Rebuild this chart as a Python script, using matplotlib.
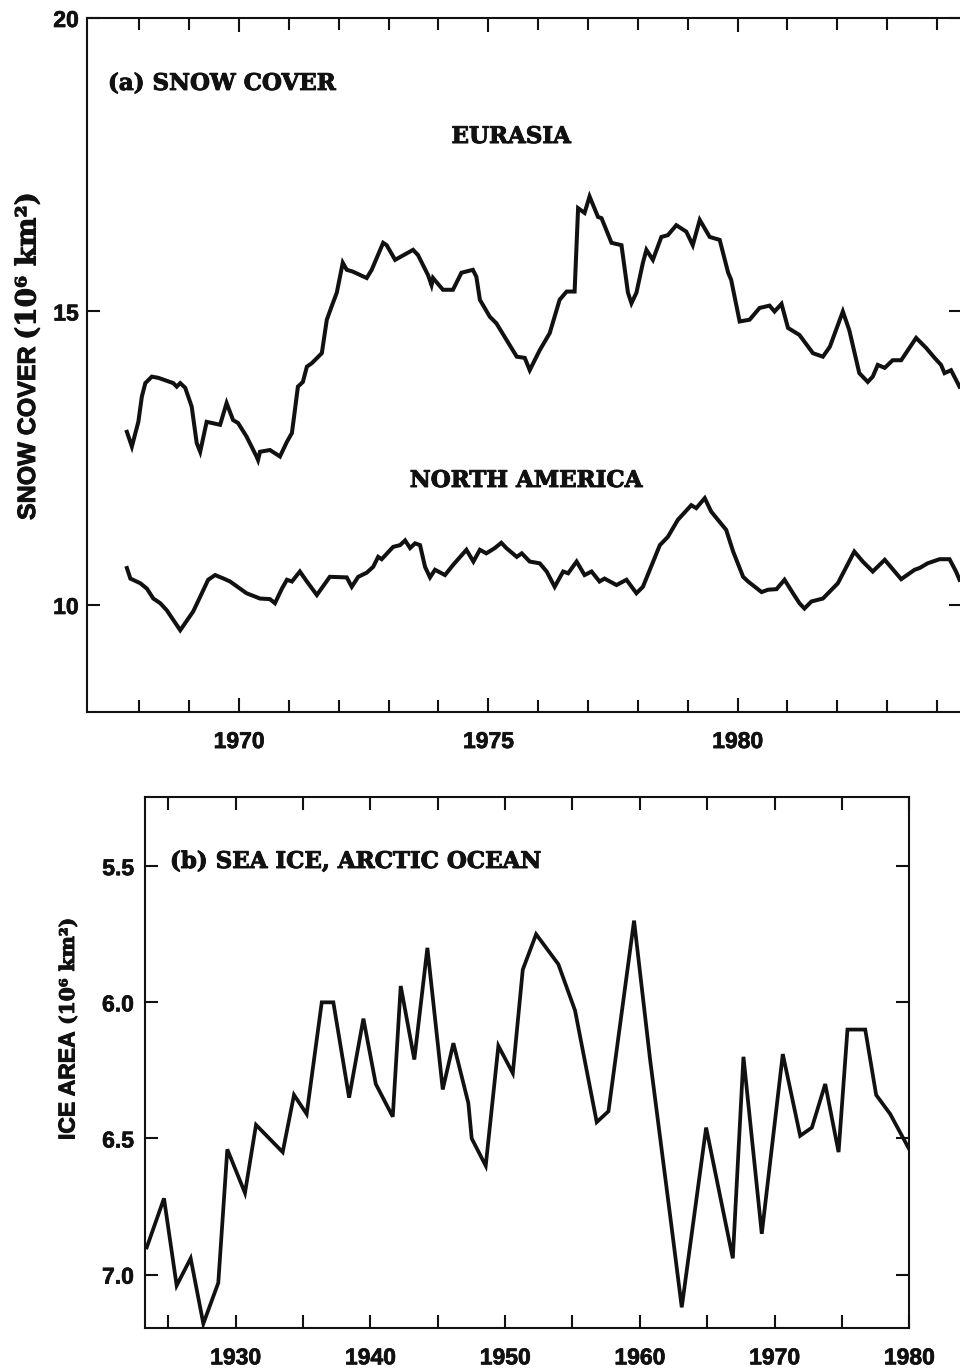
import matplotlib
matplotlib.use("Agg")
import matplotlib.pyplot as plt
import matplotlib.patheffects as pe
from matplotlib.ticker import FixedLocator, FormatStrFormatter

# ---------------- data ----------------
eurasia_year = [1967.75, 1967.85, 1967.98, 1968.05, 1968.12, 1968.25, 1968.38, 1968.68, 1968.75, 1968.82,
                1968.92, 1969.05, 1969.15, 1969.22, 1969.35, 1969.62, 1969.75, 1969.88, 1969.98, 1970.15,
                1970.35, 1970.38, 1970.42, 1970.62, 1970.82, 1970.96, 1971.06, 1971.12, 1971.18, 1971.28,
                1971.36, 1971.46, 1971.66, 1971.76, 1971.88, 1971.96, 1972.08, 1972.16, 1972.28, 1972.56,
                1972.66, 1972.89, 1972.96, 1973.13, 1973.49, 1973.59, 1973.79, 1973.86, 1973.89, 1974.09,
                1974.29, 1974.46, 1974.69, 1974.76, 1974.83, 1975.03, 1975.16, 1975.57, 1975.73, 1975.83,
                1976.03, 1976.23, 1976.43, 1976.57, 1976.73, 1976.80, 1976.93, 1977.03, 1977.20, 1977.27,
                1977.47, 1977.67, 1977.80, 1977.87, 1977.97, 1978.10, 1978.17, 1978.30, 1978.47, 1978.60,
                1978.77, 1978.97, 1979.10, 1979.24, 1979.44, 1979.64, 1979.81, 1979.87, 1980.04, 1980.24,
                1980.44, 1980.64, 1980.74, 1980.88, 1981.01, 1981.24, 1981.51, 1981.71, 1981.85, 1982.11,
                1982.24, 1982.44, 1982.61, 1982.71, 1982.81, 1982.95, 1983.11, 1983.28, 1983.58, 1983.78,
                1983.95, 1984.08, 1984.15, 1984.28, 1984.45]
eurasia_snow = [12.95, 12.70, 13.12, 13.55, 13.78, 13.89, 13.87, 13.78, 13.72, 13.78,
                13.70, 13.38, 12.76, 12.61, 13.12, 13.07, 13.44, 13.15, 13.10, 12.87,
                12.53, 12.47, 12.61, 12.64, 12.53, 12.78, 12.93, 13.32, 13.72, 13.80,
                14.06, 14.12, 14.29, 14.86, 15.14, 15.32, 15.83, 15.71, 15.68, 15.57,
                15.71, 16.17, 16.13, 15.88, 16.05, 15.96, 15.62, 15.45, 15.57, 15.37,
                15.37, 15.66, 15.71, 15.59, 15.20, 14.91, 14.80, 14.23, 14.21, 14.00,
                14.34, 14.63, 15.20, 15.34, 15.34, 16.76, 16.68, 16.96, 16.61, 16.59,
                16.17, 16.13, 15.32, 15.14, 15.32, 15.83, 16.05, 15.88, 16.27, 16.30,
                16.47, 16.36, 16.13, 16.56, 16.27, 16.22, 15.66, 15.54, 14.83, 14.86,
                15.06, 15.10, 15.00, 15.13, 14.72, 14.60, 14.29, 14.23, 14.40, 15.00,
                14.68, 13.95, 13.80, 13.89, 14.09, 14.04, 14.17, 14.17, 14.55, 14.38,
                14.21, 14.09, 13.95, 14.00, 13.72]

namerica_year = [1967.75, 1967.82, 1968.02, 1968.15, 1968.28, 1968.42, 1968.55, 1968.82, 1969.08, 1969.22,
                 1969.38, 1969.52, 1969.69, 1969.82, 1970.15, 1970.42, 1970.62, 1970.72, 1970.86, 1970.96,
                 1971.06, 1971.22, 1971.36, 1971.56, 1971.82, 1972.16, 1972.26, 1972.39, 1972.56, 1972.69,
                 1972.79, 1972.86, 1973.09, 1973.23, 1973.33, 1973.43, 1973.53, 1973.63, 1973.73, 1973.83,
                 1973.93, 1974.13, 1974.29, 1974.56, 1974.70, 1974.83, 1974.96, 1975.13, 1975.26, 1975.36,
                 1975.57, 1975.67, 1975.83, 1976.03, 1976.17, 1976.33, 1976.50, 1976.60, 1976.77, 1976.93,
                 1977.07, 1977.23, 1977.33, 1977.57, 1977.77, 1977.97, 1978.10, 1978.44, 1978.60, 1978.80,
                 1979.07, 1979.17, 1979.34, 1979.47, 1979.77, 1979.91, 1980.11, 1980.21, 1980.48, 1980.61,
                 1980.78, 1980.94, 1981.11, 1981.24, 1981.34, 1981.48, 1981.71, 1982.01, 1982.34, 1982.51,
                 1982.71, 1982.95, 1983.28, 1983.55, 1983.65, 1983.81, 1984.05, 1984.25, 1984.38, 1984.45]
namerica_snow = [10.63, 10.45, 10.37, 10.28, 10.11, 10.03, 9.91, 9.57, 9.89, 10.14,
                 10.43, 10.51, 10.45, 10.40, 10.20, 10.11, 10.10, 10.03, 10.28, 10.43,
                 10.40, 10.57, 10.40, 10.17, 10.48, 10.47, 10.31, 10.48, 10.55, 10.65,
                 10.82, 10.78, 10.99, 11.02, 11.10, 10.97, 11.05, 11.02, 10.65, 10.47,
                 10.60, 10.51, 10.68, 10.94, 10.74, 10.94, 10.88, 10.97, 11.06, 10.97,
                 10.82, 10.88, 10.74, 10.71, 10.57, 10.31, 10.57, 10.54, 10.74, 10.51,
                 10.57, 10.40, 10.45, 10.34, 10.43, 10.20, 10.31, 11.02, 11.16, 11.45,
                 11.70, 11.65, 11.82, 11.59, 11.28, 10.91, 10.48, 10.40, 10.22, 10.26,
                 10.27, 10.43, 10.20, 10.03, 9.94, 10.06, 10.11, 10.37, 10.91, 10.74,
                 10.57, 10.77, 10.44, 10.60, 10.63, 10.71, 10.78, 10.78, 10.57, 10.43]

seaice_year = [1923.40, 1924.68, 1925.62, 1926.66, 1927.60, 1928.71, 1929.38, 1930.69, 1931.51, 1933.49,
               1934.33, 1935.27, 1936.39, 1937.25, 1938.42, 1939.48, 1940.40, 1941.66, 1942.25, 1943.26,
               1944.23, 1945.37, 1946.16, 1947.27, 1947.52, 1948.56, 1949.50, 1950.57, 1951.31, 1952.30,
               1953.95, 1955.19, 1956.80, 1957.67, 1959.57, 1960.76, 1962.24, 1963.11, 1964.92, 1966.90,
               1967.69, 1969.05, 1970.61, 1971.90, 1972.77, 1973.76, 1974.75, 1975.41, 1976.73, 1977.54,
               1978.58, 1980.00]
seaice_area = [6.90, 6.72, 7.04, 6.94, 7.18, 7.03, 6.54, 6.70, 6.45, 6.55,
               6.34, 6.41, 6.00, 6.00, 6.35, 6.06, 6.30, 6.42, 5.94, 6.21,
               5.80, 6.32, 6.15, 6.37, 6.50, 6.60, 6.16, 6.26, 5.88, 5.75,
               5.86, 6.03, 6.44, 6.40, 5.70, 6.21, 6.78, 7.12, 6.46, 6.94,
               6.20, 6.85, 6.19, 6.49, 6.46, 6.30, 6.55, 6.10, 6.10, 6.34,
               6.41, 6.54]

top_yticks = [10, 15, 20]
top_xlabels = [1970, 1975, 1980]
top_xminor = [1968, 1969, 1971, 1972, 1973, 1974, 1976, 1977, 1978, 1979, 1981, 1982, 1983, 1984]
bot_yticks = [5.5, 6.0, 6.5, 7.0]
bot_xlabels = [1930, 1940, 1950, 1960, 1970, 1980]
bot_xminor = [1925, 1935, 1945, 1955, 1965, 1975]

# ---------------- style ----------------
INK = "#111111"
SANS = ["Liberation Sans", "DejaVu Sans"]
SERIF = ["DejaVu Serif"]
HEAVY = [pe.withStroke(linewidth=0.7, foreground=INK)]

plt.rcParams["font.family"] = SANS
plt.rcParams["axes.linewidth"] = 1.5

fig = plt.figure(figsize=(9.6, 13.68), dpi=100)
W, H = 960.0, 1368.0

def axes_px(l, t, r, b):
    return fig.add_axes([l / W, 1 - b / H, (r - l) / W, (b - t) / H])

ax1 = axes_px(87, 18, 962, 712)
ax2 = axes_px(145, 797, 909.3, 1328.3)

def style(ax):
    for s in ax.spines.values():
        s.set_color(INK)
        s.set_linewidth(1.5)
    ax.tick_params(which="both", direction="in", top=True, right=True,
                   colors=INK, width=1.5)
    for lab in ax.get_xticklabels() + ax.get_yticklabels():
        lab.set_fontweight("bold")
        lab.set_fontsize(16.5)
        lab.set_fontfamily(SANS)
        lab.set_path_effects([pe.withStroke(linewidth=0.5, foreground=INK)])

# ---- panel (a) ----
ax1.plot(eurasia_year, eurasia_snow, color=INK, lw=2.9, solid_joinstyle="miter")
ax1.plot(namerica_year, namerica_snow, color=INK, lw=2.9, solid_joinstyle="miter")
ax1.set_xlim(1966.95, 1984.5)
ax1.set_ylim(8.177, 20)
ax1.xaxis.set_major_locator(FixedLocator(top_xlabels))
ax1.xaxis.set_minor_locator(FixedLocator(top_xminor))
ax1.yaxis.set_major_locator(FixedLocator(top_yticks))
ax1.tick_params(axis="x", which="major", length=10, pad=13)
ax1.tick_params(axis="x", which="minor", length=8.5)
ax1.tick_params(axis="y", which="major", length=9.5, pad=6)
style(ax1)

for txt, x, y, ha in [("(a) SNOW COVER", 0.024, 0.905, "left"),
                      ("EURASIA", 0.4846, 0.8285, "center"),
                      ("NORTH AMERICA", 0.5017, 0.3329, "center")]:
    ax1.text(x, y, txt, transform=ax1.transAxes, ha=ha, va="center", fontsize=16.5,
             fontweight="bold", family=SERIF, color=INK, path_effects=HEAVY)

t1 = fig.text(28 / W, 1 - 520 / H, "SNOW COVER", rotation=90, ha="center", va="bottom",
              fontsize=18, fontweight="bold", family=SANS, color=INK, path_effects=HEAVY)
ax1.annotate("(10\u2076 km\u00b2)", xy=(0.5, 1.0), xycoords=t1, xytext=(0, 5),
             textcoords="offset points", rotation=90, ha="center", va="bottom",
             fontsize=20, fontweight="bold", family=SERIF, color=INK, annotation_clip=False,
             path_effects=HEAVY)

# ---- panel (b) ----
ax2.plot(seaice_year, seaice_area, color=INK, lw=2.7, solid_joinstyle="miter")
ax2.set_xlim(1923.27, 1980)
ax2.set_ylim(7.197, 5.246)
ax2.xaxis.set_major_locator(FixedLocator(bot_xlabels))
ax2.xaxis.set_minor_locator(FixedLocator(bot_xminor))
ax2.yaxis.set_major_locator(FixedLocator(bot_yticks))
ax2.yaxis.set_major_formatter(FormatStrFormatter("%.1f"))
ax2.tick_params(axis="x", which="both", length=9.5, pad=13)
ax2.tick_params(axis="y", which="major", length=9.5, pad=8)
style(ax2)

ax2.text(0.0327, 0.8777, "(b) SEA ICE, ARCTIC OCEAN", transform=ax2.transAxes, ha="left",
         va="center", fontsize=16.5, fontweight="bold", family=SERIF, color=INK, path_effects=HEAVY)

t2 = fig.text(68 / W, 1 - 1140 / H, "ICE AREA", rotation=90, ha="center", va="bottom",
              fontsize=16.5, fontweight="bold", family=SANS, color=INK, path_effects=HEAVY)
ax2.annotate("(10\u2076 km\u00b2)", xy=(0.5, 1.0), xycoords=t2, xytext=(0, 5),
             textcoords="offset points", rotation=90, ha="center", va="bottom",
             fontsize=14.5, fontweight="bold", family=SERIF, color=INK, annotation_clip=False,
             path_effects=HEAVY)

fig.savefig("out.png", dpi=100)
